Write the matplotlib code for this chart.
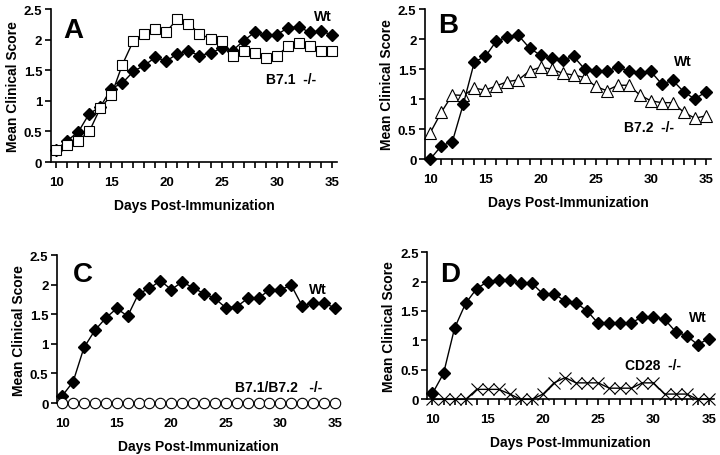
import matplotlib
matplotlib.use("Agg")
import matplotlib.pyplot as plt
import numpy as np

plt.rcParams['font.family'] = ['Liberation Sans', 'DejaVu Sans']
plt.rcParams['font.weight'] = 'bold'

days = list(range(10, 36))

# Painel A: Wt x B7.1 -/-
a_wt = [0.20, 0.35, 0.49, 0.79, 0.90, 1.20, 1.29, 1.48, 1.58, 1.71, 1.65, 1.77, 1.81,
        1.74, 1.78, 1.86, 1.82, 1.98, 2.12, 2.07, 2.08, 2.19, 2.21, 2.12, 2.14, 2.08]
a_ko = [0.20, 0.28, 0.35, 0.50, 0.88, 1.09, 1.59, 1.98, 2.09, 2.18, 2.13, 2.34, 2.26,
        2.10, 2.01, 1.97, 1.73, 1.81, 1.78, 1.70, 1.73, 1.89, 1.94, 1.89, 1.82, 1.81]

# Painel B: Wt x B7.2 -/-
b_wt = [0.00, 0.22, 0.29, 0.92, 1.62, 1.71, 1.97, 2.03, 2.06, 1.85, 1.73, 1.68, 1.65,
        1.71, 1.50, 1.47, 1.47, 1.53, 1.47, 1.44, 1.46, 1.25, 1.31, 1.12, 1.00, 1.12]
b_ko = [0.44, 0.78, 1.07, 1.06, 1.18, 1.15, 1.22, 1.29, 1.32, 1.47, 1.53, 1.50, 1.43,
        1.40, 1.36, 1.21, 1.14, 1.23, 1.23, 1.07, 0.97, 0.94, 0.94, 0.78, 0.68, 0.72]

# Painel C: Wt x B7.1/B7.2 -/-
c_wt = [0.12, 0.36, 0.94, 1.23, 1.44, 1.60, 1.47, 1.85, 1.94, 2.07, 1.92, 2.05, 1.95,
        1.85, 1.77, 1.61, 1.63, 1.77, 1.77, 1.92, 1.92, 1.99, 1.64, 1.69, 1.69, 1.61]
c_ko = [0.0] * 26

# Painel D: Wt x CD28 -/-
d_wt = [0.10, 0.44, 1.21, 1.63, 1.88, 2.00, 2.02, 2.02, 1.97, 1.97, 1.79, 1.79, 1.67,
        1.64, 1.50, 1.29, 1.30, 1.30, 1.30, 1.40, 1.40, 1.36, 1.15, 1.08, 0.93, 1.03]
d_ko = [0.0, 0.0, 0.0, 0.0, 0.17, 0.17, 0.17, 0.09, 0.0, 0.0, 0.09, 0.28, 0.37,
        0.28, 0.28, 0.28, 0.19, 0.19, 0.19, 0.28, 0.28, 0.09, 0.09, 0.09, 0.0, 0.0]

yticks = [0, 0.5, 1, 1.5, 2, 2.5]
ytick_labels = ["0", "0.5", "1", "1.5", "2", "2.5"]


def style_axes(ax):
    ax.set_xlim(9.5, 35.5)
    ax.set_ylim(0, 2.5)
    ax.spines['top'].set_visible(False)
    ax.spines['right'].set_visible(False)
    ax.spines['left'].set_linewidth(1.2)
    ax.spines['bottom'].set_linewidth(1.2)
    ax.set_xticks(days)
    ax.set_xticklabels([str(d) if d % 5 == 0 else "" for d in days])
    ax.set_yticks(yticks)
    ax.set_yticklabels(ytick_labels)
    ax.tick_params(axis='x', direction='out', length=4, width=1.2, pad=6, labelsize=9.5)
    ax.tick_params(axis='y', direction='out', length=4, width=1.2, pad=2, labelsize=9.5)
    ax.set_xlabel("Days Post-Immunization", fontsize=10, fontweight='bold', labelpad=7)
    ax.set_ylabel("Mean Clinical Score", fontsize=10, fontweight='bold', labelpad=3)


def wt_line(ax, y):
    ax.plot(days, y, color='black', lw=1, marker='D', markersize=6.5,
            markerfacecolor='black', markeredgecolor='black', clip_on=False, zorder=3)


fig = plt.figure(figsize=(7.2, 4.56), dpi=100)
axA = fig.add_axes([0.0704, 0.6425, 0.398, 0.3355])
axB = fig.add_axes([0.590, 0.649, 0.398, 0.329])
axC = fig.add_axes([0.0788, 0.114, 0.394, 0.324])
axD = fig.add_axes([0.593, 0.122, 0.399, 0.323])

# A
wt_line(axA, a_wt)
axA.plot(days, a_ko, color='black', lw=1, marker='s', markersize=7.5,
         markerfacecolor='white', markeredgecolor='black', markeredgewidth=0.8,
         clip_on=False, zorder=4)
style_axes(axA)
axA.text(11.54, 2.16, "A", fontsize=20, fontweight='bold', ha='center', va='center')
axA.text(34.2, 2.39, "Wt", fontsize=10, ha='center', va='center')
axA.text(31.3, 1.36, "B7.1  -/-", fontsize=10, ha='center', va='center')

# B
axB.plot(days, b_ko, color='black', lw=1, marker='^', markersize=8.5,
         markerfacecolor='white', markeredgecolor='black', markeredgewidth=0.8,
         clip_on=False, zorder=2)
wt_line(axB, b_wt)
style_axes(axB)
axB.text(11.66, 2.23, "B", fontsize=20, fontweight='bold', ha='center', va='center')
axB.text(32.9, 1.63, "Wt", fontsize=10, ha='center', va='center')
axB.text(29.8, 0.53, "B7.2  -/-", fontsize=10, ha='center', va='center')

# C
wt_line(axC, c_wt)
axC.plot(days, c_ko, color='black', lw=1, marker='o', markersize=7.5,
         markerfacecolor='white', markeredgecolor='black', markeredgewidth=0.8,
         clip_on=False, zorder=4)
style_axes(axC)
axC.text(11.86, 2.18, "C", fontsize=20, fontweight='bold', ha='center', va='center')
axC.text(33.45, 1.93, "Wt", fontsize=10, ha='center', va='center')
axC.text(29.8, 0.27, "B7.1/B7.2   -/-", fontsize=10, ha='center', va='center')

# D
wt_line(axD, d_wt)
axD.plot(days, d_ko, color='black', lw=1, marker='x', markersize=9,
         markeredgewidth=0.8, clip_on=False, zorder=4)
style_axes(axD)
axD.text(11.57, 2.13, "D", fontsize=20, fontweight='bold', ha='center', va='center')
axD.text(34.0, 1.40, "Wt", fontsize=10, ha='center', va='center')
axD.text(30.0, 0.58, "CD28  -/-", fontsize=10, ha='center', va='center')

fig.savefig("out.png", dpi=100)
